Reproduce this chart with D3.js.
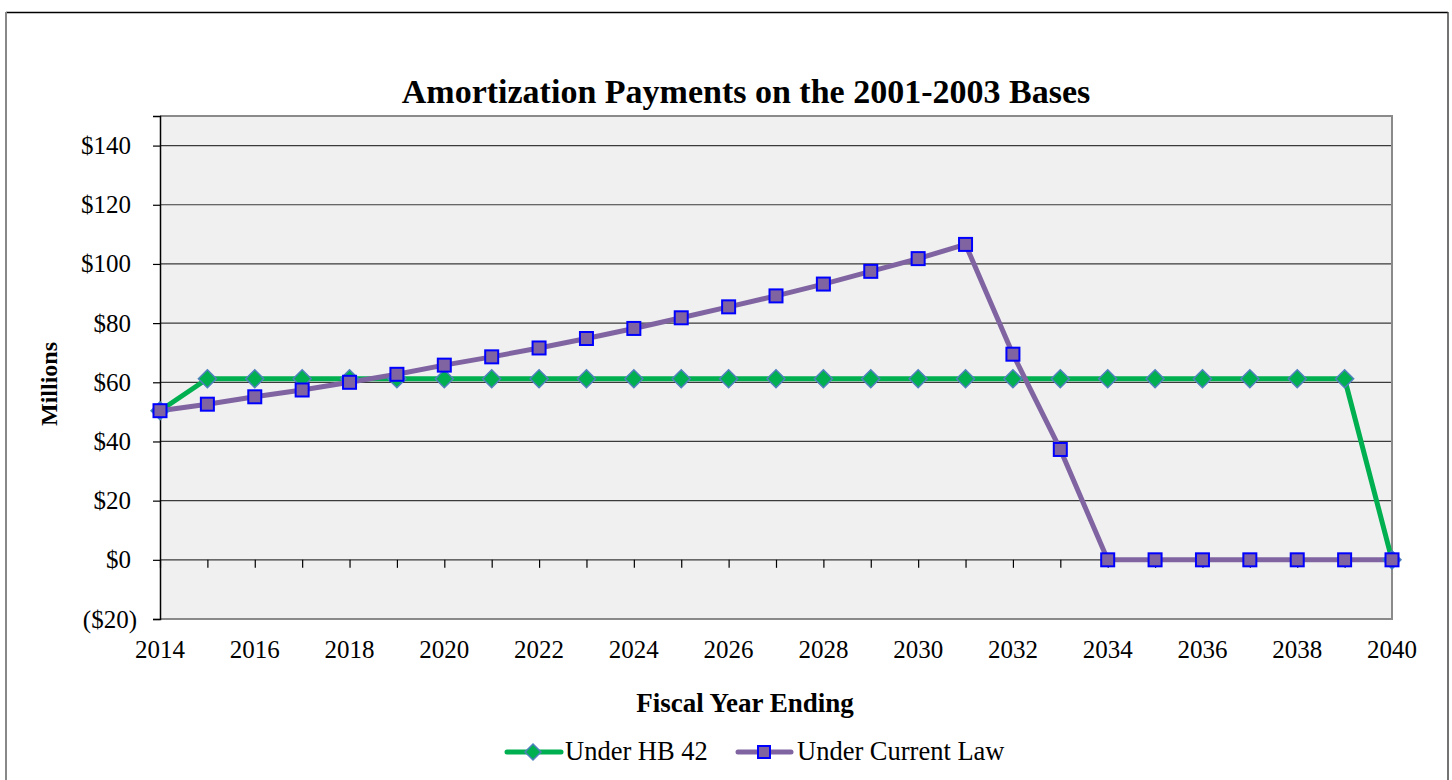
<!DOCTYPE html>
<html>
<head>
<meta charset="utf-8">
<script src="https://cdn.jsdelivr.net/npm/d3@7"></script>
<style>
  body { margin:0; background:#fff; }
  text { font-family: "Liberation Serif", "Times New Roman", serif; fill:#000; }
</style>
</head>
<body>
<svg id=chart width=1452 height=780></svg>
<script>
// chart data
var years=d3.range(2014,2041);
var hb42=[50.4,61.2,61.2,61.2,61.2,61.2,61.2,61.2,61.2,61.2,61.2,61.2,61.2,61.2,61.2,61.2,61.2,61.2,61.2,61.2,61.2,61.2,61.2,61.2,61.2,61.2,0];
var currentLaw=[50.4,52.6,55.1,57.4,60.0,62.7,65.8,68.6,71.6,74.8,78.2,81.8,85.5,89.2,93.2,97.5,101.8,106.6,69.5,37.3,0,0,0,0,0,0,0];
var yTicks=[-20,0,20,40,60,80,100,120,140];
var xLabelYears=[2014,2016,2018,2020,2022,2024,2026,2028,2030,2032,2034,2036,2038,2040];

var svg=d3.select('#chart');

var plot_left=160, plot_right=1392, plot_top=116, plot_bottom=619;

// outer chart frame
svg.append('line').attr('x1',6).attr('x2',1448).attr('y1',12.5).attr('y2',12.5).attr('stroke','#000').attr('stroke-width',1.5);
svg.append('line').attr('x1',6).attr('x2',6).attr('y1',12).attr('y2',780).attr('stroke','#888').attr('stroke-width',2);
svg.append('line').attr('x1',1448).attr('x2',1448).attr('y1',12).attr('y2',780).attr('stroke','#444').attr('stroke-width',1.5);

var xscale=d3.scaleLinear().domain([2014,2040]).range([plot_left,plot_right]);
var yscale=d3.scaleLinear().domain([-20,150]).range([plot_bottom,plot_top]);

// plot area
svg.append('rect')
  .attr('x',plot_left).attr('y',plot_top)
  .attr('width',plot_right-plot_left).attr('height',plot_bottom-plot_top)
  .attr('fill','#f0f0f0');

// gridlines
svg.append('g').selectAll('line').data(yTicks.filter(function(d){return d>-20;})).enter().append('line')
  .attr('x1',plot_left).attr('x2',plot_right)
  .attr('y1',function(d){return yscale(d);}).attr('y2',function(d){return yscale(d);})
  .attr('stroke','#3a3a3a').attr('stroke-width',1.2);

// plot border (top, right, bottom gray)
svg.append('path')
  .attr('d','M'+plot_left+','+plot_top+'H'+plot_right+'V'+plot_bottom+'H'+plot_left)
  .attr('fill','none').attr('stroke','#8a8a8a').attr('stroke-width',2);

// y axis
var y_axis=d3.axisLeft(yscale).tickValues(yTicks).tickSize(7).tickPadding(22)
  .tickFormat(function(d){return d<0 ? '($'+(-d)+')' : '$'+d;});
var Y=svg.append('g').attr('transform','translate('+plot_left+',0)').call(y_axis);
Y.select('.domain').attr('stroke','#000').attr('stroke-width',1.5);
Y.selectAll('.tick line').attr('stroke','#000').attr('stroke-width',1.2);
Y.selectAll('.tick text')
  .attr('font-size','25px').attr('font-family','"Liberation Serif", serif').attr('fill','#000')
  .attr('dx',function(d){return d<0 ? 6 : 0;});

// x ticks on the zero line
var x_axis=d3.axisBottom(xscale).tickValues(years).tickSize(8).tickFormat('');
var X=svg.append('g').attr('transform','translate(0,'+yscale(0)+')').call(x_axis);
X.select('.domain').remove();
X.selectAll('.tick line').attr('stroke','#000').attr('stroke-width',1.2);

// x labels under plot
svg.append('g').selectAll('text').data(xLabelYears).enter().append('text')
  .attr('x',function(d){return xscale(d);}).attr('y',658)
  .attr('text-anchor','middle').attr('font-size','25px')
  .text(function(d){return d;});

// titles
svg.append('text').attr('x',746).attr('y',103).attr('text-anchor','middle')
  .attr('font-size','34px').attr('font-weight','bold')
  .text('Amortization Payments on the 2001-2003 Bases');
svg.append('text').attr('x',745).attr('y',712).attr('text-anchor','middle')
  .attr('font-size','27px').attr('font-weight','bold')
  .text('Fiscal Year Ending');
svg.append('text').attr('transform','translate(57,384) rotate(-90)').attr('text-anchor','middle')
  .attr('font-size','24px').attr('font-weight','bold')
  .text('Millions');

var line=d3.line().x(function(d,i){return xscale(years[i]);}).y(function(d){return yscale(d);});
var green='#00b050', purple='#8064a2';

// Under HB 42
svg.append('path').attr('d',line(hb42)).attr('fill','none').attr('stroke',green).attr('stroke-width',5).attr('stroke-linejoin','round');
// Under Current Law
svg.append('path').attr('d',line(currentLaw)).attr('fill','none').attr('stroke',purple).attr('stroke-width',5).attr('stroke-linejoin','round');

function diamond(g,x,y,r) {
  g.append('path').attr('d','M'+x+','+(y-r)+'L'+(x+r)+','+y+'L'+x+','+(y+r)+'L'+(x-r)+','+y+'Z')
    .attr('fill',green).attr('stroke','#4f81bd').attr('stroke-width',1.5);
}
function square(g,x,y,s) {
  g.append('rect').attr('x',x-s/2).attr('y',y-s/2).attr('width',s).attr('height',s)
    .attr('fill',purple).attr('stroke','#0000ff').attr('stroke-width',2);
}
var gm=svg.append('g');
hb42.forEach(function(v,i){diamond(gm,xscale(years[i]),yscale(v),9);});
currentLaw.forEach(function(v,i){square(gm,xscale(years[i]),yscale(v),13);});

// legend
var lg=svg.append('g');
lg.append('line').attr('x1',507).attr('x2',561).attr('y1',752).attr('y2',752).attr('stroke',green).attr('stroke-width',5).attr('stroke-linecap','round');
diamond(lg,533,752,8);
lg.append('text').attr('x',565).attr('y',760).attr('font-size','26.5px').text('Under HB 42');
lg.append('line').attr('x1',738).attr('x2',791).attr('y1',752).attr('y2',752).attr('stroke',purple).attr('stroke-width',5).attr('stroke-linecap','round');
square(lg,764,752,12);
lg.append('text').attr('x',797).attr('y',760).attr('font-size','26.5px').text('Under Current Law');
</script>
</body>
</html>
